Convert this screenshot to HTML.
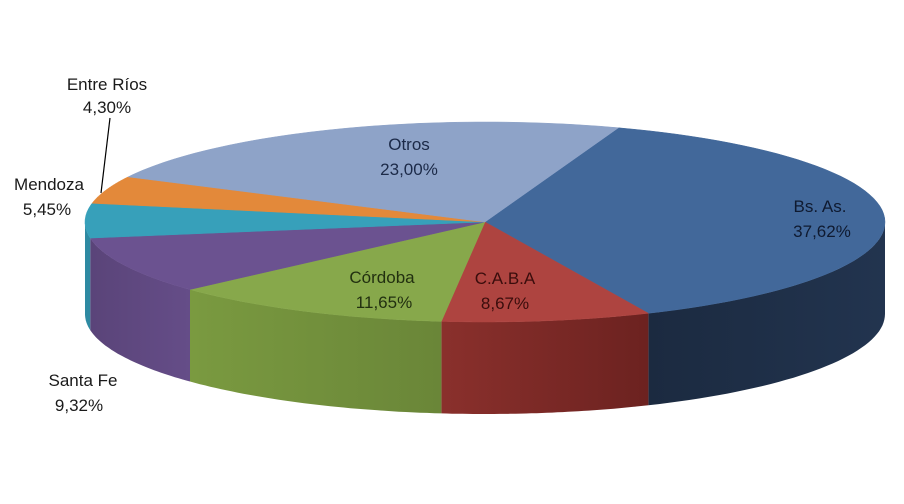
<!DOCTYPE html>
<html><head><meta charset="utf-8"><style>
html,body{margin:0;padding:0;background:#fff;}
svg{display:block;}
text{font-family:"Liberation Sans",sans-serif;font-size:17px;text-anchor:middle;}
</style></head><body>
<svg id="s" width="904" height="504" viewBox="0 0 904 504" xmlns="http://www.w3.org/2000/svg">
<defs>
<linearGradient id="gb" x1="0" x2="1"><stop offset="0" stop-color="#1b2a40"/><stop offset="1" stop-color="#22344f"/></linearGradient>
<linearGradient id="gc" x1="0" x2="1"><stop offset="0" stop-color="#8a302c"/><stop offset="1" stop-color="#6c2220"/></linearGradient>
<linearGradient id="gd" x1="0" x2="1"><stop offset="0" stop-color="#7a9a40"/><stop offset="1" stop-color="#6a8638"/></linearGradient>
<linearGradient id="ge" x1="0" x2="1"><stop offset="0" stop-color="#5a4479"/><stop offset="1" stop-color="#654d88"/></linearGradient>
</defs>
<g id="pie"></g>
<line x1="110" y1="118" x2="101" y2="193" stroke="#000" stroke-width="1.2"/>
<text x="107" y="90" fill="#1a1a1a">Entre Ríos</text>
<text x="107" y="113" fill="#1a1a1a">4,30%</text>
<text x="49" y="190" fill="#1a1a1a">Mendoza</text>
<text x="47" y="215" fill="#1a1a1a">5,45%</text>
<text x="83" y="386" fill="#1a1a1a">Santa Fe</text>
<text x="79" y="411" fill="#1a1a1a">9,32%</text>
<text x="409" y="150" fill="#1c2a48">Otros</text>
<text x="409" y="175" fill="#1c2a48">23,00%</text>
<text x="382" y="283" fill="#223010">Córdoba</text>
<text x="384" y="308" fill="#223010">11,65%</text>
<text x="505" y="284" fill="#3a0d0c">C.A.B.A</text>
<text x="505" y="309" fill="#3a0d0c">8,67%</text>
<text x="820" y="212" fill="#0f1a30">Bs. As.</text>
<text x="822" y="237" fill="#0f1a30">37,62%</text>
</svg>
<script>
var cx=485,cy=222,rx=400,ry=100,d=92;
var sl=[[-1.23,1.15,"#42689a","url(#gb)"],[1.15,1.68,"#ae4440","url(#gc)"],[1.68,2.40,"#87a84b","url(#gd)"],[2.40,2.98,"#6b5290","url(#ge)"],[2.98,3.33,"#37a0ba","#2e8aa2"],[3.33,3.61,"#e3893a","#c06f28"],[3.61,5.053,"#8ea3c8","#6e83a8"]];
function P(t,o){return (cx+rx*Math.cos(t)).toFixed(1)+","+(cy+ry*Math.sin(t)+(o||0)).toFixed(1);}
var g=document.getElementById("pie"),h="";
sl.forEach(function(s){var a=Math.max(s[0],0),b=Math.min(s[1],Math.PI);if(b>a){var p=[],q=[];for(var i=0;i<=40;i++){var t=a+(b-a)*i/40;p.push(P(t));q.unshift(P(t,d));}h+='<polygon points="'+p.concat(q).join(" ")+'" fill="'+s[3]+'"/>';}});
sl.forEach(function(s){var p=[cx+","+cy];for(var i=0;i<=60;i++){var t=s[0]+(s[1]-s[0])*i/60;p.push(P(t));}h+='<polygon points="'+p.join(" ")+'" fill="'+s[2]+'" stroke="'+s[2]+'" stroke-width="0.5"/>';});
g.innerHTML=h;
</script>
</body></html>
